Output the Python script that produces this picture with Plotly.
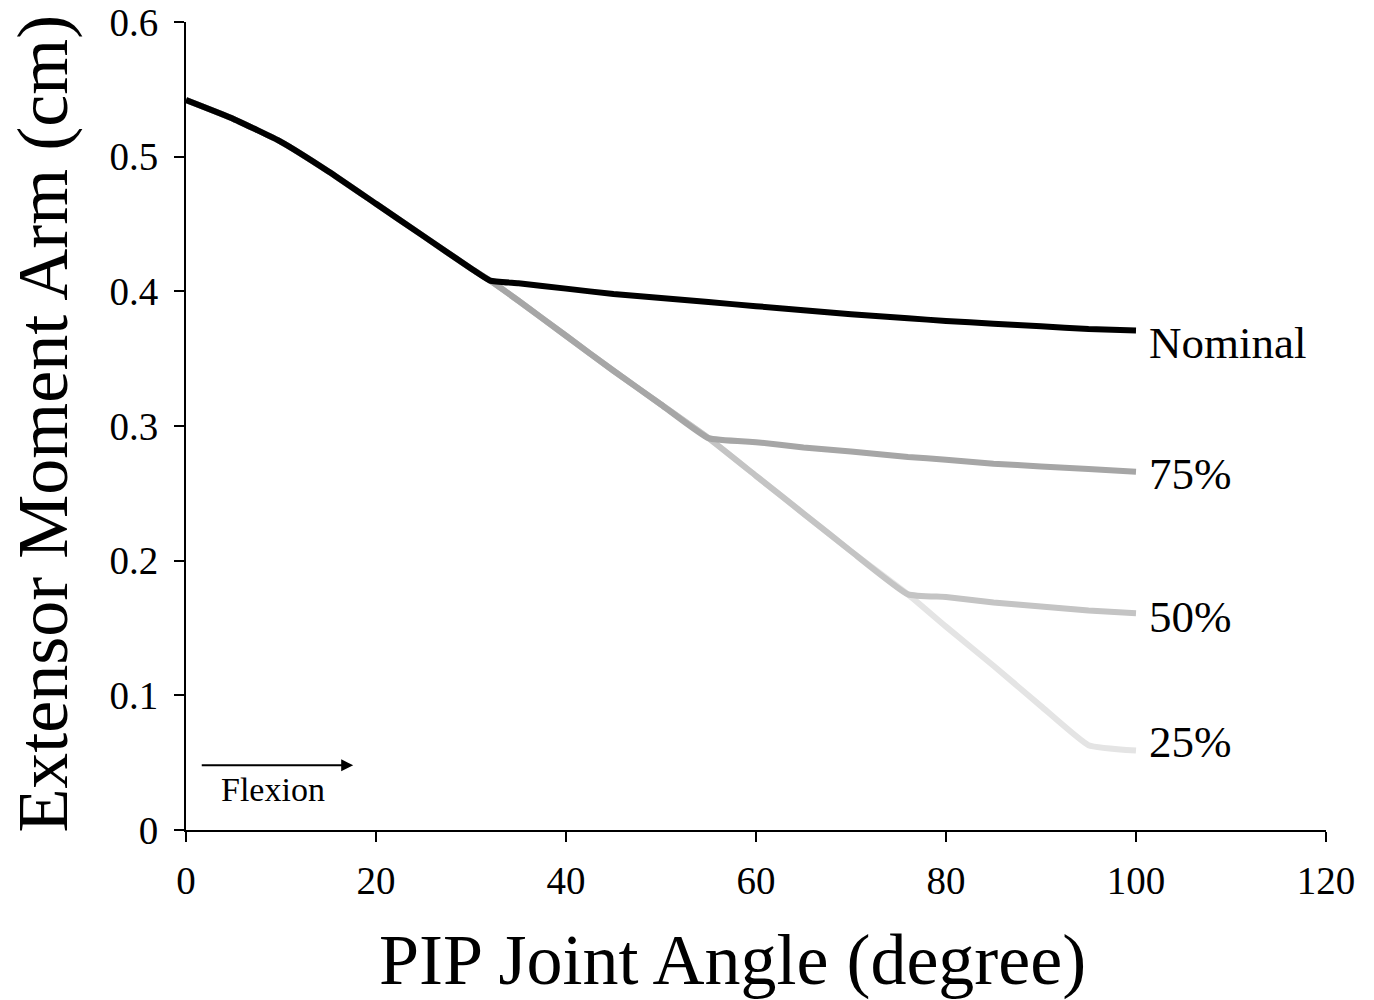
import plotly.graph_objects as go

# PIP joint angle (degree)
angle = [0, 5, 10, 15, 20, 25, 30, 32, 35, 40, 45, 50, 55, 60, 65, 70, 76, 80, 85, 90, 95, 100]

# Extensor moment arm (cm)
nominal = [0.542, 0.528, 0.511, 0.489, 0.465, 0.441, 0.417, 0.408, 0.406, 0.402, 0.398, 0.395,
           0.392, 0.389, 0.386, 0.383, 0.380, 0.378, 0.376, 0.374, 0.372, 0.371]
pct75 = [0.542, 0.528, 0.511, 0.489, 0.465, 0.441, 0.417, 0.408, 0.393, 0.367, 0.341, 0.316,
         0.291, 0.288, 0.284, 0.281, 0.277, 0.275, 0.272, 0.270, 0.268, 0.266]
pct50 = [0.542, 0.528, 0.511, 0.489, 0.465, 0.441, 0.417, 0.408, 0.393, 0.367, 0.341, 0.316,
         0.291, 0.263, 0.235, 0.207, 0.175, 0.173, 0.169, 0.166, 0.163, 0.161]
pct25 = [0.542, 0.528, 0.511, 0.489, 0.465, 0.441, 0.417, 0.408, 0.393, 0.367, 0.341, 0.316,
         0.291, 0.263, 0.235, 0.207, 0.175, 0.151, 0.122, 0.092, 0.063, 0.059]

series_names = ["25%", "50%", "75%", "Nominal"]
series_values = [pct25, pct50, pct75, nominal]
series_colors = ["#e4e4e4", "#c4c4c4", "#a6a6a6", "#000000"]
label_y = [0.065, 0.158, 0.264, 0.362]

xticks = [0, 20, 40, 60, 80, 100, 120]
yticks = [0, 0.1, 0.2, 0.3, 0.4, 0.5, 0.6]
ytick_text = ["0", "0.1", "0.2", "0.3", "0.4", "0.5", "0.6"]

FONT = "Liberation Serif, Times New Roman, serif"

fig = go.Figure()
for name, vals, col in zip(series_names, series_values, series_colors):
    fig.add_trace(go.Scatter(x=angle, y=vals, mode="lines", name=name,
                             line=dict(color=col, width=6, shape="spline", smoothing=0.4),
                             showlegend=False, hoverinfo="x+y+name"))

for name, ly in zip(series_names, label_y):
    fig.add_annotation(x=101.2, y=ly, text=name, showarrow=False, xanchor="left",
                       yanchor="middle", font=dict(family=FONT, size=45, color="black"))

# Flexion arrow
fig.add_annotation(x=17.6, y=0.048, ax=1.5, ay=0.048, xref="x", yref="y", axref="x", ayref="y",
                   text="", showarrow=True, arrowhead=2, arrowsize=1.2, arrowwidth=2,
                   arrowcolor="black")
fig.add_annotation(x=9.2, y=0.030, text="Flexion", showarrow=False,
                   font=dict(family=FONT, size=34, color="black"))

# Axis titles
fig.add_annotation(x=0.479, y=-0.161, xref="paper", yref="paper", text="PIP Joint Angle (degree)",
                   showarrow=False, xanchor="center", yanchor="middle",
                   font=dict(family=FONT, size=72, color="black"))
fig.add_annotation(x=-0.1254, y=0.503, xref="paper", yref="paper", text="Extensor Moment Arm (cm)",
                   showarrow=False, xanchor="center", yanchor="middle", textangle=-90,
                   font=dict(family=FONT, size=72, color="black"))

fig.update_layout(
    width=1374, height=1000,
    margin=dict(l=186, r=48, t=22, b=170),
    plot_bgcolor="white", paper_bgcolor="white",
    font=dict(family=FONT, color="black"),
    xaxis=dict(range=[0, 120], tickvals=xticks, ticks="outside", ticklen=10, tickwidth=2,
               tickcolor="black", showline=True, linewidth=2, linecolor="black",
               showgrid=False, zeroline=False, tickfont=dict(family=FONT, size=39),
               ticklabelstandoff=5, ticklabeloverflow="allow", automargin=False),
    yaxis=dict(range=[0, 0.6], tickvals=yticks, ticktext=ytick_text, ticks="outside",
               ticklen=10, tickwidth=2, tickcolor="black", showline=True, linewidth=2,
               linecolor="black", showgrid=False, zeroline=False,
               tickfont=dict(family=FONT, size=39), ticklabelstandoff=8,
               ticklabeloverflow="allow", automargin=False),
)

fig.write_html("out.html", config={"displayModeBar": False},
               post_script="document.body.style.margin='0px';document.body.style.overflow='hidden';")
